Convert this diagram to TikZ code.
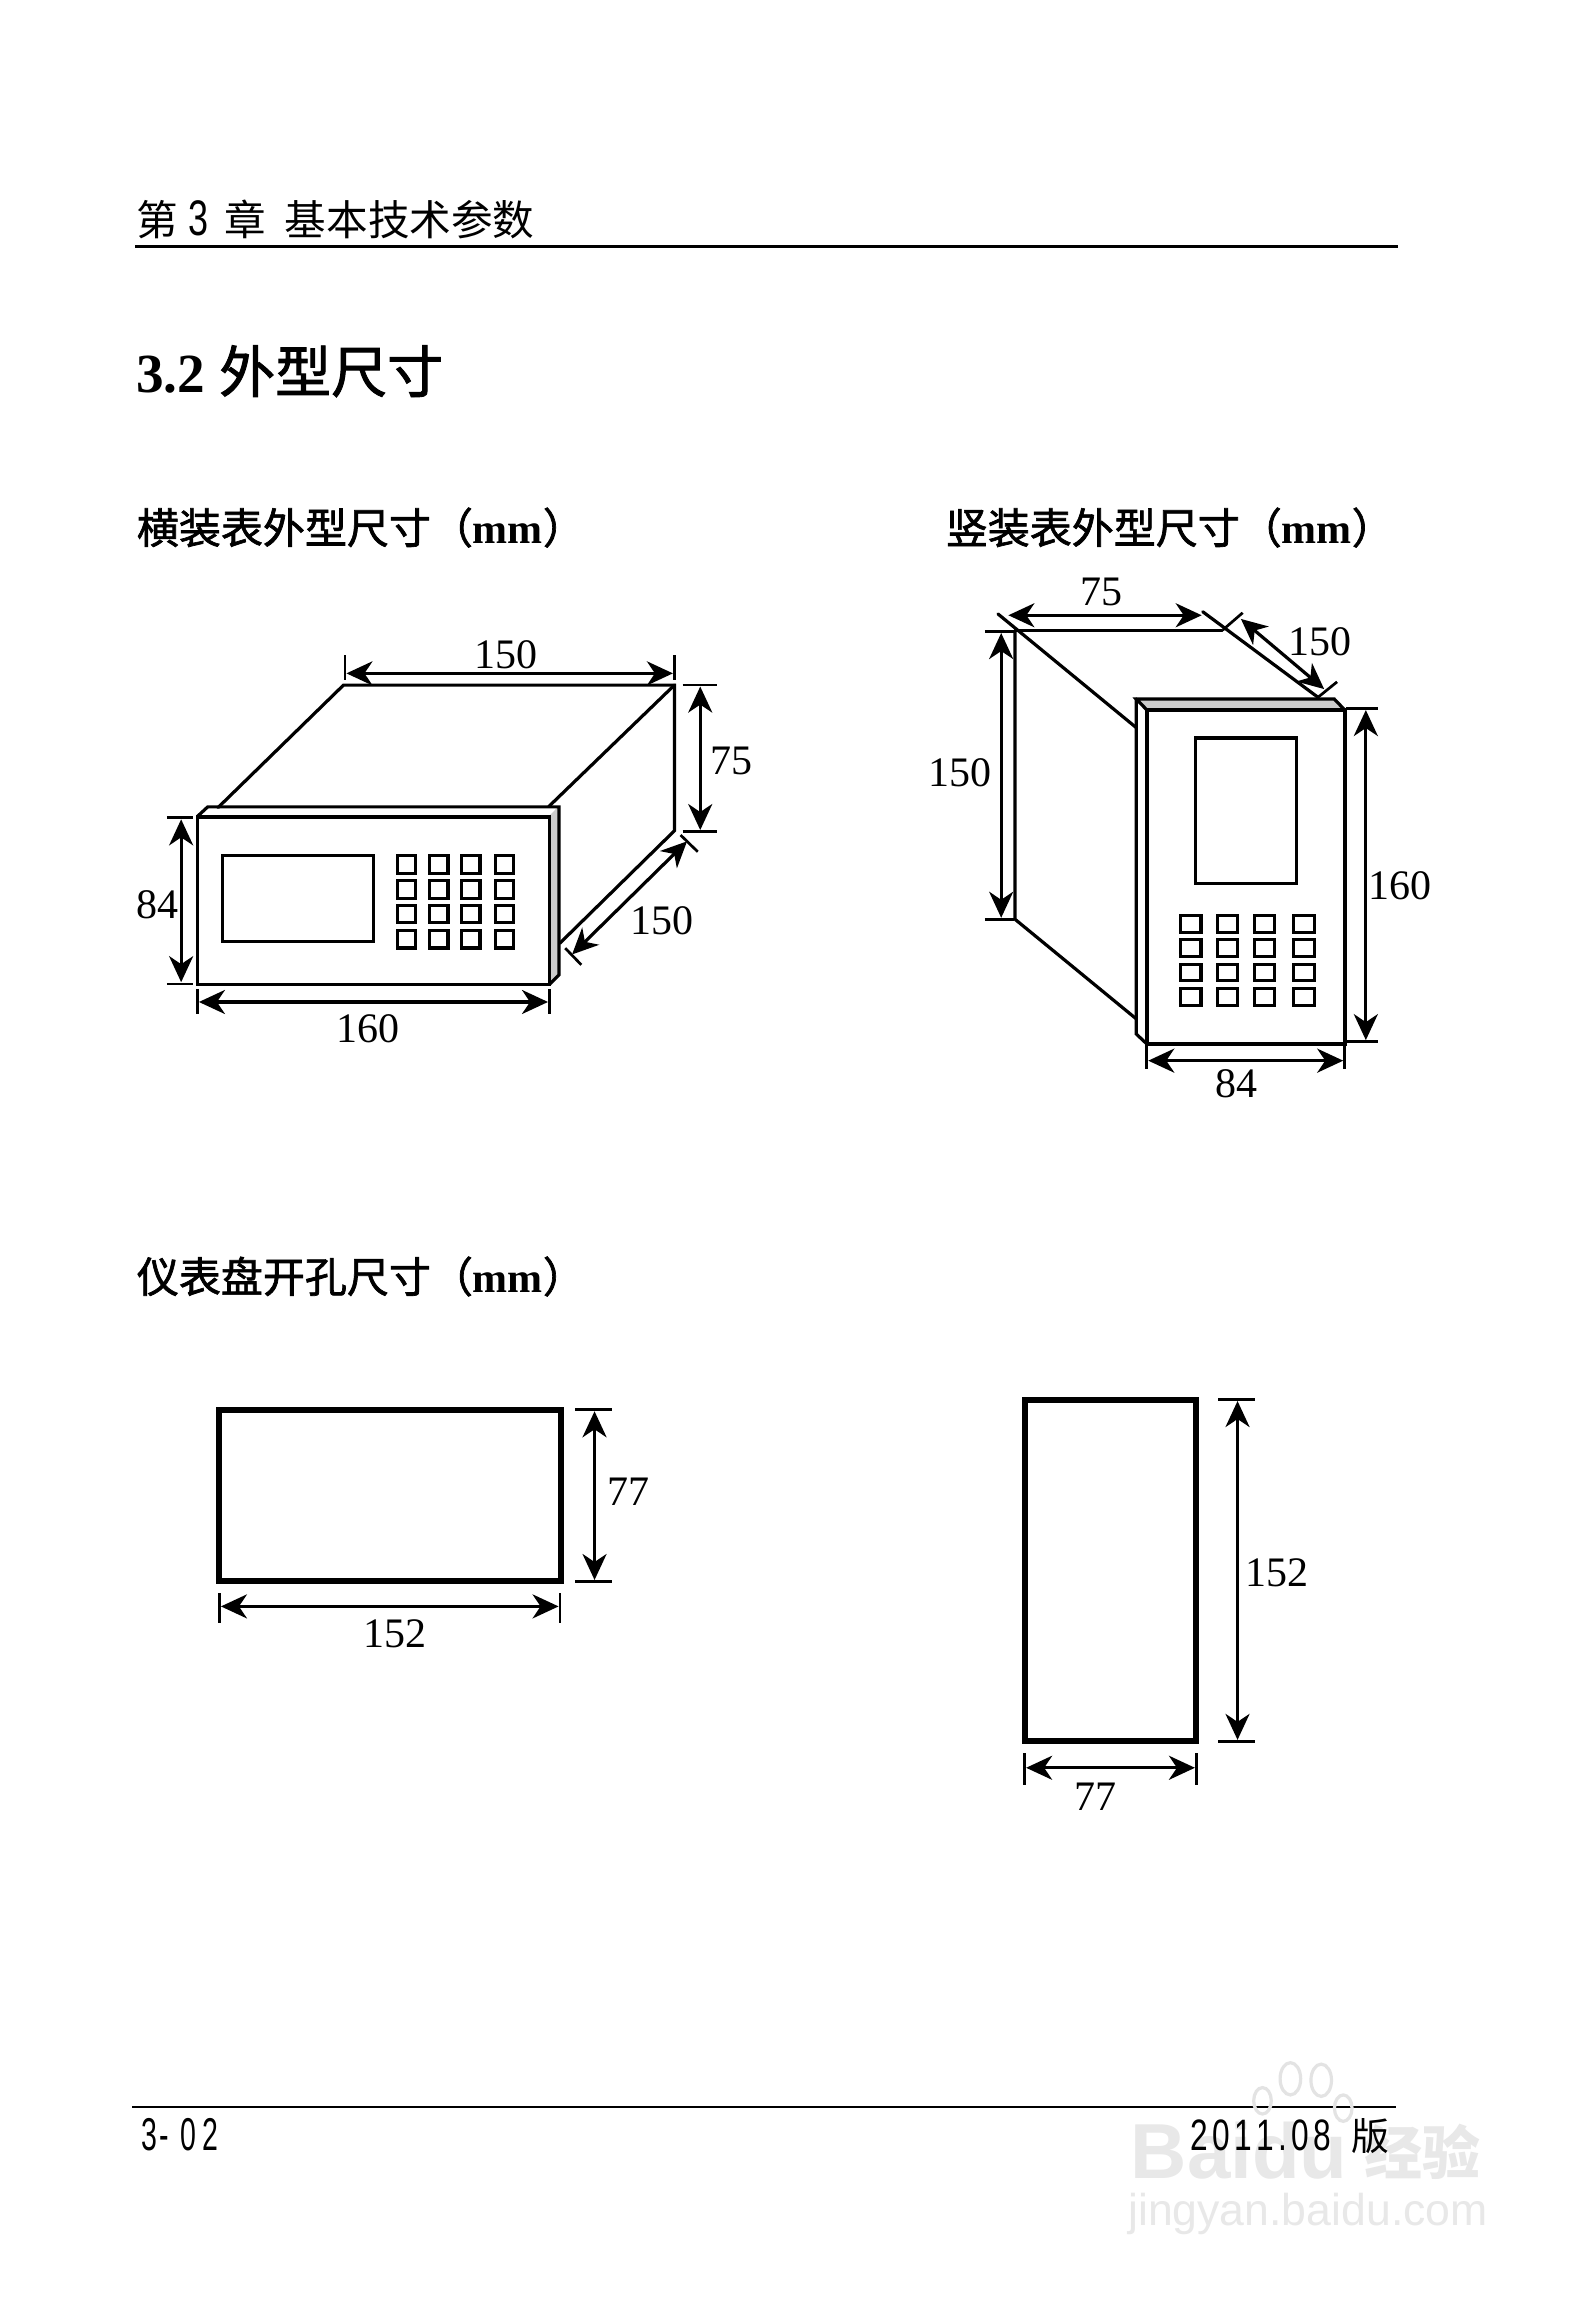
\documentclass[tikz,border=0pt]{standalone}
\usepackage{fontspec}
\usepackage{graphicx}
\usetikzlibrary{arrows.meta}
\setmainfont{Liberation Serif}
\newfontfamily\cjk{Noto Sans CJK SC}
\newfontfamily\cjkm[FakeBold=1.6]{Noto Sans CJK SC}
\newfontfamily\sans{Liberation Sans}
\newcommand{\fs}[1]{\fontsize{#1}{#1}\selectfont}
\tikzset{
  x=0.734pt,y=-0.7335pt,
  body/.style={line width=1.6pt,line cap=round,line join=miter},
  key/.style={draw,line width=1.6pt},
  tick/.style={line width=1.35pt},
  dim/.style={line width=1.6pt,{Stealth[length=13pt,width=12pt,inset=4pt]}-{Stealth[length=13pt,width=12pt,inset=4pt]}},
  num/.style={inner sep=0pt,font=\fs{21}},
  sub/.style={inner sep=0pt,anchor=base west,font=\cjkm\fs{21}},
  rule/.style={line width=1.5pt},
  wm/.style={inner sep=0pt,text=black!9},
  cut/.style={draw,line width=3pt},
}
\begin{document}
\begin{tikzpicture}
\useasboundingbox (0,0) rectangle (1081.75,1567.8);
\fill[white] (0,0) rectangle (1081.75,1567.8);

% page header
\coordinate (hr1) at (92,168); \coordinate (hr2) at (952,168);
\draw[rule] (hr1) -- (hr2);
\node[sub,font=\cjk\fs{20.8}] (chap) at (93,160.5) {第\hspace{5pt}\raisebox{0pt}{\scalebox{0.72}[1]{\sans\fs{25}3}}\hspace{8pt}章\hspace{9.4pt}基本技术参数};
\node[sub,font=\fs{27.6}] (sec) at (92.5,267.5) {\textbf{3.2}\hspace{7pt}{\cjkm\fs{28}外型尺寸}};

\node[sub] (t1) at (93,370.5) {横装表外型尺寸（{\rmfamily\bfseries mm}）};
\node[sub] (t2) at (644,370.5) {竖装表外型尺寸（{\rmfamily\bfseries mm}）};
\node[sub] (t3) at (93,881) {仪表盘开孔尺寸（{\rmfamily\bfseries mm}）};

% ---------- horizontal instrument
\fill[black!20] (374.3,556) -- (380.8,549.3) -- (380.8,664.5) -- (374.3,670) -- cycle;
\draw[body] (148.5,550.5) -- (234,467) -- (459.4,467) -- (459.4,566.3) -- (381.3,643);
\draw[body] (373.8,549.8) -- (459.4,467);
\draw[body] (134.5,556.5) -- (141.5,550) -- (380.8,550) -- (380.8,664.5) -- (374.3,671);
\draw[body,line width=1.8pt] (134.5,557) rectangle (374.3,671);
\draw[key] (151.3,583.4) rectangle (254.5,641.5);
\foreach \xa/\xb in {270.6/282.9,292.6/305.2,314.4/327,337.5/349.8}
  \foreach \ya/\yb in {583.4/595.2,600.4/612.2,617.2/628.7,634.2/646.2}
    \draw[key] (\xa,\ya) rectangle (\xb,\yb);

% dims horizontal
\coordinate (a1) at (235,446.7);\coordinate (a2) at (235,463.8);
\coordinate (a3) at (459.4,446.7);\coordinate (a4) at (459.4,463.8);
\draw[tick] (a1) -- (a2); \draw[tick] (a3) -- (a4);
\coordinate (a5) at (236,459);\coordinate (a6) at (458.4,459);
\draw[dim] (a5) -- (a6);
\node[num] (l150a) at (345,446) {150};

\coordinate (b1) at (465,467);\coordinate (b2) at (488.6,467);
\coordinate (b3) at (465,566.8);\coordinate (b4) at (488.6,566.8);
\draw[tick] (b1) -- (b2); \draw[tick] (b3) -- (b4);
\coordinate (b5) at (477,468);\coordinate (b6) at (477,565.8);
\draw[dim] (b5) -- (b6);
\node[num] (l75a) at (498.4,519) {75};

\coordinate (c1) at (113.7,557.2);\coordinate (c2) at (131.8,557.2);
\coordinate (c3) at (113.7,670.7);\coordinate (c4) at (131.8,670.7);
\draw[tick] (c1) -- (c2); \draw[tick] (c3) -- (c4);
\coordinate (c5) at (123.4,558.5);\coordinate (c6) at (123.4,669.5);
\draw[dim] (c5) -- (c6);
\node[num] (l84a) at (107,616.5) {84};

\coordinate (d1) at (134.5,674);\coordinate (d2) at (134.5,691);
\coordinate (d3) at (374.3,674);\coordinate (d4) at (374.3,691);
\draw[tick] (d1) -- (d2); \draw[tick] (d3) -- (d4);
\coordinate (d5) at (135.5,683);\coordinate (d6) at (373.3,683);
\draw[dim] (d5) -- (d6);
\node[num] (l160a) at (251,701.5) {160};

\coordinate (e1) at (385,646.3);\coordinate (e2) at (396,657.7);
\coordinate (e3) at (463.6,569.2);\coordinate (e4) at (475.3,580.6);
\draw[tick] (e1) -- (e2); \draw[tick] (e3) -- (e4);
\coordinate (e5) at (389.7,650.6);\coordinate (e6) at (468,573.5);
\draw[dim] (e5) -- (e6);
\node[num] (l150b) at (451,627.5) {150};

% ---------- vertical instrument
\fill[black!20] (774,476.5) -- (908.9,476.5) -- (916,483.9) -- (781.2,483.9) -- cycle;
\draw[body] (679.8,418.5) -- (774,496);
\draw[body] (691.4,430) -- (832.7,430);
\draw[body] (691.4,430) -- (691.4,626.6) -- (774,694.5);
\draw[body] (819.3,417) -- (897.8,475.3);
\draw[body] (781.2,483.9) -- (774,476.5) -- (908.9,476.5) -- (916,483.9);
\draw[body] (774,476.5) -- (774,704.8) -- (781.2,711.6);
\draw[body,line width=1.8pt] (781.2,483.9) rectangle (916,711.6);
\draw[key] (814.3,503) rectangle (883.1,602.1);
\foreach \xa/\xb in {804.2/818.1,829.2/842.9,854.3/868.4,881.2/895.4}
  \foreach \ya/\yb in {624.2/635.7,640.6/652.1,657.2/668.3,673.7/685.4}
    \draw[key] (\xa,\ya) rectangle (\xb,\yb);

\coordinate (f5) at (686.9,419.4);\coordinate (f6) at (818.6,419.4);
\draw[dim] (f5) -- (f6);
\node[num] (l75b) at (750,403.5) {75};

\coordinate (g1) at (670.8,430.5);\coordinate (g2) at (691,430.5);
\coordinate (g3) at (670.8,626.6);\coordinate (g4) at (691,626.6);
\draw[tick] (g1) -- (g2); \draw[tick] (g3) -- (g4);
\coordinate (g5) at (682,431.5);\coordinate (g6) at (682,625.6);
\draw[dim] (g5) -- (g6);
\node[num] (l150c) at (654,527) {150};

\coordinate (h1) at (833.2,429.2);\coordinate (h2) at (846.5,417.7);
\coordinate (h3) at (897.8,475.3);\coordinate (h4) at (910.8,464.8);
\draw[tick] (h1) -- (h2); \draw[tick] (h3) -- (h4);
\coordinate (h5) at (845.3,421.9);\coordinate (h6) at (902,469.7);
\draw[dim] (h5) -- (h6);
\node[num] (l150d) at (899,437.5) {150};

\coordinate (i1) at (917.1,483);\coordinate (i2) at (938.4,483);
\coordinate (i3) at (917.1,710);\coordinate (i4) at (938.4,710);
\draw[tick] (i1) -- (i2); \draw[tick] (i3) -- (i4);
\coordinate (i5) at (930.4,484);\coordinate (i6) at (930.4,709);
\draw[dim] (i5) -- (i6);
\node[num] (l160b) at (954,604) {160};

\coordinate (j1) at (781.2,711.6);\coordinate (j2) at (781.2,728.8);
\coordinate (j3) at (916,711.6);\coordinate (j4) at (916,728.8);
\draw[tick] (j1) -- (j2); \draw[tick] (j3) -- (j4);
\coordinate (j5) at (782.2,723);\coordinate (j6) at (915,723);
\draw[dim] (j5) -- (j6);
\node[num] (l84b) at (842,739) {84};

% ---------- cutouts
\draw[cut] (149,961) rectangle (382,1078);
\coordinate (k1) at (392,961);\coordinate (k2) at (417,961);
\coordinate (k3) at (392,1078);\coordinate (k4) at (417,1078);
\draw[tick] (k1) -- (k2); \draw[tick] (k3) -- (k4);
\coordinate (k5) at (405,962);\coordinate (k6) at (405,1077);
\draw[dim] (k5) -- (k6);
\node[num] (l77a) at (428,1017) {77};
\coordinate (m1) at (149.5,1086);\coordinate (m2) at (149.5,1106);
\coordinate (m3) at (381.5,1086);\coordinate (m4) at (381.5,1106);
\draw[tick] (m1) -- (m2); \draw[tick] (m3) -- (m4);
\coordinate (m5) at (150.5,1095);\coordinate (m6) at (380.5,1095);
\draw[dim] (m5) -- (m6);
\node[num] (l152a) at (269,1114) {152};

\draw[cut] (698,954) rectangle (815,1187);
\coordinate (n1) at (830,954);\coordinate (n2) at (855,954);
\coordinate (n3) at (830,1187);\coordinate (n4) at (855,1187);
\draw[tick] (n1) -- (n2); \draw[tick] (n3) -- (n4);
\coordinate (n5) at (843,955);\coordinate (n6) at (843,1186);
\draw[dim] (n5) -- (n6);
\node[num] (l152b) at (870,1072) {152};
\coordinate (o1) at (698,1195);\coordinate (o2) at (698,1217);
\coordinate (o3) at (815,1195);\coordinate (o4) at (815,1217);
\draw[tick] (o1) -- (o2); \draw[tick] (o3) -- (o4);
\coordinate (o5) at (699,1205);\coordinate (o6) at (814,1205);
\draw[dim] (o5) -- (o6);
\node[num] (l77b) at (746,1225) {77};

% ---------- footer
\coordinate (fr1) at (90,1436); \coordinate (fr2) at (951,1436);
\draw[line width=1pt] (fr1) -- (fr2);

% watermark
\foreach \cx/\cy/\rx/\ry in {879/1417/7/11,900/1418/7/11,860/1432/6/9,915/1437/6/9}
  \draw[black!11,line width=1.6pt] (\cx,\cy) ellipse ({\rx} and {\ry});
\node[wm,anchor=base west] (wmb) at (770,1485) {\sans\bfseries\fs{39}Baidu};
\node[wm,anchor=base west] (wmc) at (929,1482) {\cjk\bfseries\fs{29}经验};
\node[wm] (wmu) at (891,1509) {\sans\fs{22.3}jingyan.baidu.com};

\node[inner sep=0pt,anchor=base west] (pg) at (96,1466) {\scalebox{0.62}[1]{\sans\fs{23}3\kern2pt-\kern9pt 0\kern5pt 2}};
\node[inner sep=0pt,anchor=base west] (ed) at (811,1466) {\scalebox{0.72}[1]{\sans\fs{22}2\kern3pt 0\kern3pt 1\kern3pt 1\kern3pt.\kern3pt 0\kern3pt 8}\hspace{10pt}{\cjk\fs{19}版}};
\end{tikzpicture}
\end{document}
